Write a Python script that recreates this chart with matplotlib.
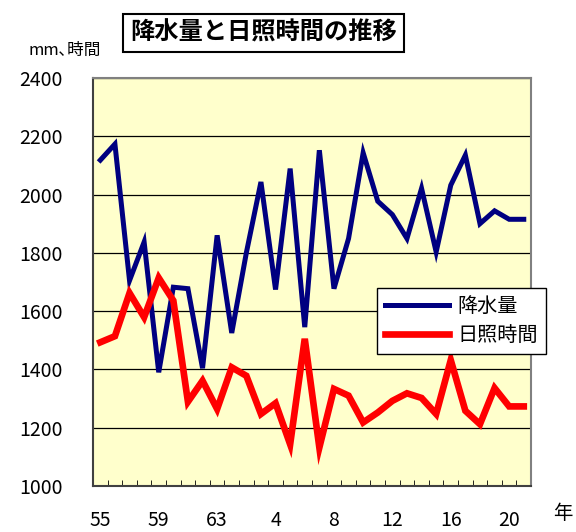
import numpy as np
import matplotlib
matplotlib.use('Agg')
import matplotlib.pyplot as plt

plt.rcParams['font.family'] = ['Noto Sans CJK JP', 'DejaVu Sans']

# S55 .. H21
years = ['55', '56', '57', '58', '59', '60', '61', '62', '63', '1',
         '2', '3', '4', '5', '6', '7', '8', '9', '10', '11',
         '12', '13', '14', '15', '16', '17', '18', '19', '20', '21']
rain = [2118, 2173, 1705, 1837, 1390, 1682, 1677, 1404, 1860, 1525,
        1800, 2043, 1674, 2089, 1545, 2152, 1677, 1849, 2143, 1977,
        1931, 1849, 2021, 1803, 2032, 2135, 1900, 1944, 1915, 1915]
sun = [1493, 1514, 1662, 1579, 1714, 1636, 1289, 1361, 1264, 1407,
       1378, 1247, 1284, 1143, 1505, 1132, 1333, 1310, 1218, 1252,
       1292, 1318, 1302, 1247, 1432, 1258, 1212, 1336, 1273, 1273]
shown_years = ['55', '59', '63', '4', '8', '12', '16', '20']

fig = plt.figure(figsize=(5.76, 5.32), dpi=100)
ax = fig.add_axes([0.1615, 0.0865, 0.7605, 0.767])
ax.set_facecolor('#FFFFCC')

x = np.arange(len(years)) + 0.5
l1, = ax.plot(x, rain, color='#000080', lw=3.6, solid_joinstyle='miter', label='降水量')
l2, = ax.plot(x, sun, color='#FF0000', lw=4.8, solid_joinstyle='miter', label='日照時間')

ax.set_xlim(0, len(years))
ax.set_ylim(1000, 2400)
ax.set_yticks(np.arange(1000, 2401, 200))
ax.yaxis.grid(True, color='black', lw=0.9)
ax.set_axisbelow(True)
ax.tick_params(axis='y', labelsize=14, length=0, pad=22)

ax.set_xticks(np.arange(0, len(years) + 1), minor=True)
ax.set_xticks([years.index(y) + 0.5 for y in shown_years])
ax.set_xticklabels(shown_years)
ax.tick_params(axis='x', which='major', length=0, labelsize=14, pad=17)
ax.tick_params(axis='x', which='minor', direction='in', length=4, color='black')

for s in ['top', 'right']:
    ax.spines[s].set_color('#808080')
    ax.spines[s].set_linewidth(1.5)
for s in ['left', 'bottom']:
    ax.spines[s].set_color('#404040')
    ax.spines[s].set_linewidth(1.5)

fig.text(0.457, 0.938, '降水量と日照時間の推移', fontsize=17.5, fontweight='bold',
         ha='center', va='center',
         bbox=dict(boxstyle='square,pad=0.3', fc='white', ec='black', lw=1.5))
fig.text(0.113, 0.906, 'mm､時間', fontsize=12, ha='center', va='center')
fig.text(0.977, 0.035, '年', fontsize=14, ha='center', va='center')

leg = fig.legend(handles=[l1, l2], loc='upper left', bbox_to_anchor=(0.654, 0.459),
                 fontsize=14.5, frameon=True, fancybox=False, handlelength=3.2,
                 borderpad=0.4, labelspacing=0.4, handletextpad=0.4, borderaxespad=0)
leg.get_frame().set_edgecolor('black')
leg.get_frame().set_linewidth(1.0)
leg.get_frame().set_alpha(1)

fig.savefig('out.png', dpi=100)
